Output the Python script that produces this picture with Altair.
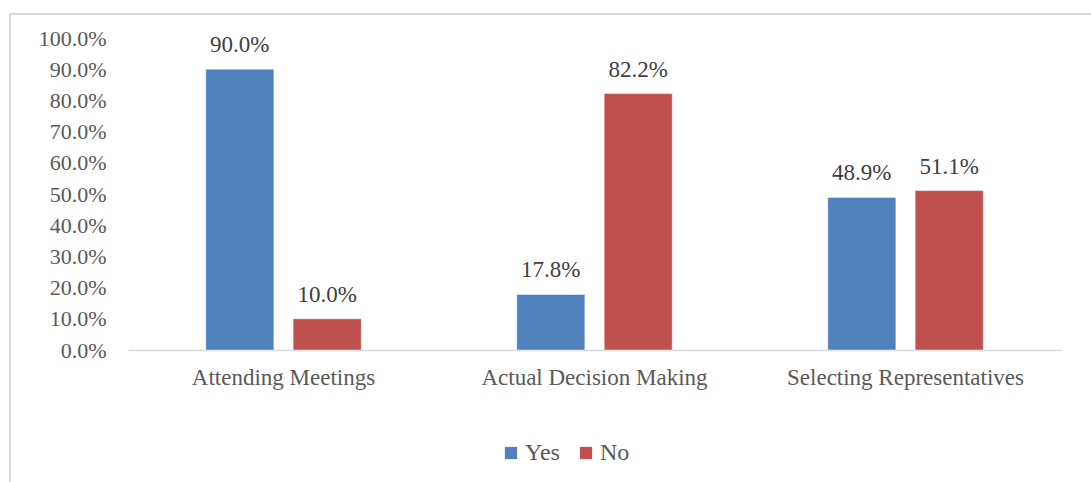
import altair as alt
import pandas as pd

categories = ["Attending Meetings", "Actual Decision Making", "Selecting Representatives"]
yes_values = [0.900, 0.178, 0.489]
no_values = [0.100, 0.822, 0.511]
series = ["Yes", "No"]
colors = ["#4f81bd", "#c0504d"]

rows = []
for c, y, n in zip(categories, yes_values, no_values):
    rows.append({"category": c, "series": "Yes", "value": y})
    rows.append({"category": c, "series": "No", "value": n})
df = pd.DataFrame(rows)

FONT = "Liberation Serif"

x = alt.X("category:N", sort=categories, title=None,
          scale=alt.Scale(paddingInner=0.5, paddingOuter=0.25),
          axis=alt.Axis(labelAngle=0, labelFont=FONT, labelFontSize=23, labelColor="#595959",
                        labelPadding=16, labelLimit=0, ticks=False, domainColor="#d9d9d9",
                        domainWidth=1.5, grid=False))
xo = alt.XOffset("series:N", sort=series, scale=alt.Scale(paddingInner=0.22))
y = alt.Y("value:Q", title=None,
          scale=alt.Scale(domain=[0, 1], nice=False),
          axis=alt.Axis(format=".1%", values=[i / 10 for i in range(11)], labelFont=FONT,
                        labelFontSize=22, labelColor="#595959", labelPadding=22, ticks=False,
                        domain=False, grid=False))
color = alt.Color("series:N", sort=series, scale=alt.Scale(domain=series, range=colors),
                  legend=alt.Legend(title=None, orient="none", legendX=371, legendY=403,
                                    direction="horizontal", symbolType="square", symbolSize=150,
                                    symbolStrokeWidth=0, labelFont=FONT, labelFontSize=24,
                                    labelColor="#595959", columnPadding=14, labelOffset=2))

base = alt.Chart(df)
bars = base.mark_bar(stroke="#ffffff", strokeWidth=0.5).encode(x=x, xOffset=xo, y=y, color=color)
labels = base.mark_text(font=FONT, fontSize=23, color="#404040", baseline="bottom", dy=-12).encode(
    x=x, xOffset=xo, y=y, text=alt.Text("value:Q", format=".1%"))

frame_top = alt.Chart(df).mark_rule(color="#d9d9d9", strokeWidth=1.5).encode(
    x=alt.value(-118), x2=alt.value(1000), y=alt.value(-24))
frame_left = alt.Chart(df).mark_rule(color="#d9d9d9", strokeWidth=1.5).encode(
    x=alt.value(-118), y=alt.value(-24), y2=alt.value(500))

chart = alt.layer(frame_top, frame_left, bars, labels).properties(
    width=933, height=312,
    padding={"left": 128, "top": 38, "right": 30, "bottom": 132},
    autosize=alt.AutoSizeParams(type="none"),
    background="#ffffff",
).configure_view(stroke=None, clip=False)

chart.save("out.html", embed_options={"renderer": "svg", "actions": False})
